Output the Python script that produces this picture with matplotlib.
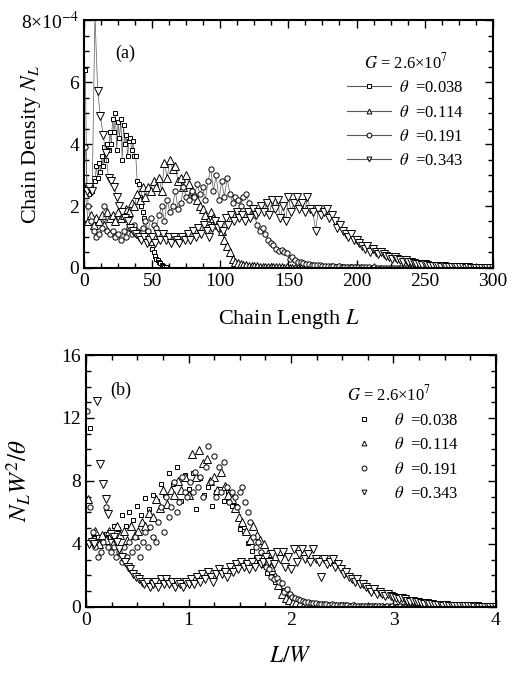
import numpy as np
import matplotlib
matplotlib.use('Agg')
import matplotlib.pyplot as plt
from matplotlib.lines import Line2D
from matplotlib.ticker import MultipleLocator

plt.rcParams['font.family'] = ['Liberation Serif', 'DejaVu Serif']
plt.rcParams['mathtext.fontset'] = 'stix'

# chain density N_L in units of 1e-4
theta = [0.038, 0.114, 0.191, 0.343]
W = [26, 57, 78, 74]          # scaling width used for panel (b)

L_sq = np.arange(1, 61)
N_sq = [6.4, 2.6, 2.5, 2.4, 2.6, 2.5, 2.9, 2.8, 3.3, 2.9,
        3.4, 3.1, 3.6, 3.3, 3.9, 3.5, 4.0, 3.8, 4.4, 4.0,
        4.8, 4.4, 5.0, 3.8, 4.7, 4.2, 4.8, 3.5, 4.6, 4.0,
        4.3, 3.6, 4.1, 4.2, 3.8, 4.1, 3.6, 3.6, 2.8, 2.7,
        2.3, 2.0, 1.8, 1.6, 1.5, 1.2, 1.1, 0.9, 0.8, 0.6,
        0.5, 0.4, 0.3, 0.25, 0.2, 0.15, 0.1, 0.06, 0.03, 0.02]

L_tri = np.arange(1, 200, 2)
N_tri = [2.4, 1.5, 1.7, 1.4, 1.6, 1.5, 1.7, 1.4, 1.8, 1.6,
         1.7, 1.5, 1.8, 1.6, 1.7, 1.9, 1.8, 2.1, 2.0, 2.4,
         2.2, 2.6, 2.3, 2.6, 2.5, 2.8, 2.6, 2.9, 2.5, 3.4,
         2.9, 3.5, 3.2, 3.3, 2.8, 2.9, 2.6, 3.0, 2.7, 2.5,
         2.4, 2.2, 2.0, 1.9, 1.7, 1.5, 1.8, 1.6, 1.5, 1.4,
         1.2, 0.9, 0.7, 0.5, 0.3, 0.2, 0.15, 0.12, 0.1, 0.08,
         0.07, 0.06, 0.05, 0.05, 0.04, 0.04, 0.03, 0.03, 0.03, 0.02,
         0.02, 0.02, 0.02, 0.01, 0.02, 0.01, 0.01, 0.01, 0.01, 0.01,
         0.01, 0.01, 0.0, 0.01, 0.0, 0.01, 0.0, 0.0, 0.01, 0.0,
         0.0, 0.0, 0.0, 0.0, 0.0, 0.0, 0.0, 0.0, 0.0, 0.0]

L_cir = np.arange(1, 260, 2)
N_cir = [3.9, 2.0, 1.5, 1.2, 1.0, 1.1, 1.3, 2.0, 1.2, 1.1,
         1.2, 1.0, 1.1, 0.9, 1.2, 1.0, 1.3, 1.1, 1.4, 1.2,
         1.0, 1.3, 1.5, 1.2, 1.6, 1.4, 1.3, 1.7, 2.0, 1.5,
         2.2, 1.8, 2.0, 2.5, 1.9, 2.1, 2.6, 2.3, 2.2, 2.5,
         2.3, 2.7, 2.4, 2.6, 2.2, 2.8, 3.2, 2.5, 3.0, 2.2,
         2.8, 2.3, 2.9, 2.4, 2.1, 2.3, 2.2, 2.0, 2.3, 2.4,
         2.1, 1.9, 1.7, 1.4, 1.2, 1.3, 1.1, 0.9, 0.8, 0.75,
         0.6, 0.55, 0.58, 0.5, 0.48, 0.3, 0.35, 0.25, 0.2, 0.18,
         0.15, 0.13, 0.12, 0.1, 0.1, 0.08, 0.08, 0.07, 0.06, 0.06,
         0.05, 0.05, 0.04, 0.05, 0.04, 0.03, 0.04, 0.03, 0.03, 0.03,
         0.02, 0.03, 0.02, 0.02, 0.02, 0.01, 0.02, 0.01, 0.01, 0.01,
         0.01, 0.01, 0.01, 0.0, 0.01, 0.0, 0.01, 0.0, 0.0, 0.01,
         0.0, 0.0, 0.0, 0.0, 0.0, 0.0, 0.0, 0.0, 0.0, 0.0]

L_inv = np.arange(2, 301, 2)
N_inv = [2.5, 2.6, 2.5, 8.2, 5.7, 4.9, 4.3, 3.7, 2.9, 2.8,
         2.6, 2.3, 2.0, 1.8, 1.6, 1.5, 1.3, 1.2, 1.1, 1.0,
         0.9, 1.0, 0.8, 0.9, 1.0, 0.8, 1.1, 0.9, 1.1, 0.9,
         1.0, 0.8, 1.0, 0.9, 0.8, 1.0, 0.9, 1.1, 0.9, 1.2,
         1.0, 1.3, 1.1, 1.4, 1.2, 1.0, 1.3, 1.5, 1.3, 1.4,
         1.2, 1.6, 1.4, 1.7, 1.5, 1.8, 1.6, 1.7, 1.5, 1.8,
         1.6, 1.9, 1.7, 1.8, 2.0, 1.8, 2.1, 1.7, 2.2, 1.9,
         2.2, 1.6, 2.0, 1.5, 2.3, 1.8, 2.1, 2.3, 1.9, 2.1,
         1.8, 2.3, 1.9, 1.8, 1.2, 1.9, 1.7, 1.8, 1.9, 1.6,
         1.7, 1.5, 1.3, 1.4, 1.2, 1.1, 1.0, 1.1, 0.9, 0.9,
         0.8, 0.7, 0.6, 0.7, 0.5, 0.6, 0.5, 0.45, 0.5, 0.45,
         0.4, 0.35, 0.3, 0.35, 0.3, 0.25, 0.2, 0.25, 0.2, 0.18,
         0.15, 0.12, 0.14, 0.1, 0.12, 0.08, 0.07, 0.06, 0.05, 0.06,
         0.04, 0.05, 0.03, 0.04, 0.03, 0.02, 0.03, 0.02, 0.02, 0.01,
         0.02, 0.01, 0.01, 0.01, 0.0, 0.01, 0.0, 0.0, 0.0, 0.0]

series = [(L_sq, N_sq), (L_tri, N_tri), (L_cir, N_cir), (L_inv, N_inv)]
marks = ['s', '^', 'o', 'v']
msize = [3.5, 5.5, 3.8, 6.0]
labels = [r'$\theta$  =%.3f' % t for t in theta]
gtitle = r'$G$ = 2.6×10$^7$'

fig = plt.figure(figsize=(5.22, 6.81), dpi=100)
axa = fig.add_axes([0.161, 0.6065, 0.783, 0.364])
axb = fig.add_axes([0.165, 0.1087, 0.785, 0.370])

# panel (a): symbols joined by thin lines
for (L, N), m, s in zip(series, marks, msize):
    axa.plot(L, N, marker=m, ms=s, mfc='white', mec='black', mew=0.7,
             color='0.35', lw=0.5)
axa.set_xlim(0, 300)
axa.set_ylim(0, 8)
axa.xaxis.set_major_locator(MultipleLocator(50))
axa.xaxis.set_minor_locator(MultipleLocator(12.5))
axa.set_yticks([0, 2, 4, 6, 8])
axa.set_yticklabels(['0', '2', '4', '6', '8×10$^{-4}$'])
axa.yaxis.set_minor_locator(MultipleLocator(0.5))
axa.set_xlabel(r'Chain Length $L$', fontsize=16, labelpad=12)
axa.set_ylabel(r'Chain Density $N_L$', fontsize=16)
axa.yaxis.set_label_coords(-0.10, 0.5)
axa.text(0.10, 0.865, '(a)', transform=axa.transAxes, fontsize=13,
         ha='center', va='center')
h_a = [Line2D([], [], color='0.35', lw=0.8, marker=m, ms=3.5, mfc='white',
              mec='black', mew=0.7) for m in marks]
axa.legend(h_a, labels, title=gtitle, loc='upper right',
           bbox_to_anchor=(0.95, 0.905), frameon=False, fontsize=12,
           title_fontsize=12, handlelength=2.6, handletextpad=0.5,
           labelspacing=0.5, borderpad=0)

# panel (b): rescaled, symbols only
for (L, N), m, s, t, w in zip(series, marks, msize, theta, W):
    x = np.asarray(L) / w
    y = np.asarray(N) * 1e-4 * w ** 2 / t
    axb.plot(x, y, ls='none', marker=m, ms=s, mfc='white', mec='black',
             mew=0.7)
axb.set_xlim(0, 4)
axb.set_ylim(0, 16)
axb.xaxis.set_major_locator(MultipleLocator(1))
axb.xaxis.set_minor_locator(MultipleLocator(0.25))
axb.yaxis.set_major_locator(MultipleLocator(4))
axb.yaxis.set_minor_locator(MultipleLocator(1))
axb.set_xlabel(r'$L/W$', fontsize=17, labelpad=12)
axb.set_ylabel(r'$N_L W^2/\theta$', fontsize=18)
axb.yaxis.set_label_coords(-0.13, 0.5)
axb.text(0.085, 0.86, '(b)', transform=axb.transAxes, fontsize=13,
         ha='center', va='center')
h_b = [Line2D([], [], ls='none', marker=m, ms=3.5, mfc='white',
              mec='black', mew=0.7) for m in marks]
axb.legend(h_b, labels, title=gtitle, loc='upper right',
           bbox_to_anchor=(0.93, 0.916), frameon=False, fontsize=12,
           title_fontsize=12, handlelength=2.0, handletextpad=0.8,
           labelspacing=0.5, borderpad=0, alignment='left')

for ax in (axa, axb):
    for sp in ax.spines.values():
        sp.set_linewidth(1.5)
    ax.tick_params(which='both', direction='in', top=True, right=True,
                   labelsize=14, width=1.0)
    ax.tick_params(which='major', length=6)
    ax.tick_params(which='minor', length=3.5)

fig.savefig('out.png', dpi=100)
